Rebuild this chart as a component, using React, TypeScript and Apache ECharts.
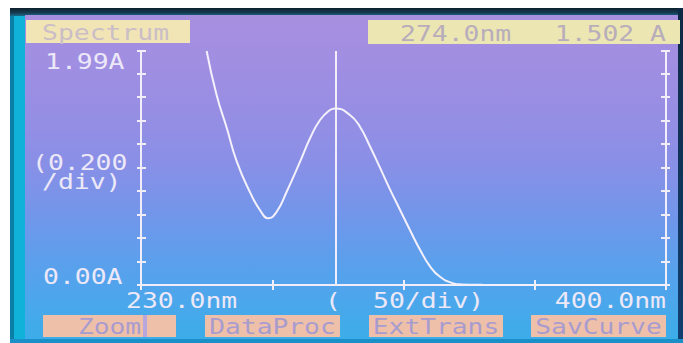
import React, { useEffect, useRef } from "react";
import * as echarts from "echarts";

// Spectrum data (wavelength in nm, absorbance in A)
const wavelengths = [225, 228.8, 232.7, 236.5, 241.5, 245.3, 248.5, 251.7, 255.5, 260.6, 264.4, 268.2, 272, 274, 279.6, 283.4, 287.2, 291, 294.8, 298.7, 302.5, 306.3, 310.1, 313.9, 319, 322, 330, 350, 375, 400];
const absorbance = [1.99, 1.616, 1.333, 1.049, 0.79, 0.638, 0.567, 0.623, 0.793, 1.049, 1.248, 1.403, 1.488, 1.502, 1.446, 1.346, 1.18, 1.0, 0.815, 0.638, 0.465, 0.3, 0.158, 0.07, 0.014, 0.005, 0.002, 0, 0, 0];

const cursorWavelength = 274;
const headerTitle = "Spectrum";
const readoutWavelength = "274.0nm";
const readoutAbs = "1.502 A";
const yEdgeLabels = ["1.99A", "0.00A"];
const yScaleLabels = ["(0.200", "/div)"];
const xEdgeLabels = ["230.0nm", "400.0nm"];
const xScaleLabels = ["(", "50/div)"];
const buttons = ["Zoom", "DataProc", "ExtTrans", "SavCurve"];

const X_MIN = 200;
const X_MAX = 400;
const X_STEP = 50;
const Y_MIN = 0;
const Y_MAX = 1.99;
const Y_STEP = 0.2;

const LINE = "#f1eefa";
const FONT = '"DejaVu Sans Mono", "Liberation Mono", monospace';

export default function App() {
  const ref = useRef<HTMLDivElement>(null);

  useEffect(() => {
    if (!ref.current) return;
    const chart = echarts.init(ref.current, undefined, { renderer: "svg" });

    const txt = (text: string, x: number, y: number, align: string, color: string, size = 22, sx = 1.2) => ({
      type: "text",
      x,
      y,
      scaleX: sx,
      silent: true,
      z: 10,
      style: {
        text,
        fill: color,
        font: `${size}px ${FONT}`,
        textAlign: align,
        textVerticalAlign: "middle",
      },
    });

    const rect = (x: number, y: number, w: number, h: number, fill: string) => ({
      type: "rect",
      shape: { x, y, width: w, height: h },
      style: { fill },
      silent: true,
      z: 5,
    });

    const buttonBoxes = [
      [43, 133],
      [205, 135],
      [369, 134],
      [531, 135],
    ];

    const axisCommon = {
      type: "value",
      splitLine: { show: false },
      axisLabel: { show: false },
    };

    const xAxes = [
      { ...axisCommon, min: X_MIN, max: X_MAX, interval: X_STEP, position: "bottom", axisLine: { show: true, lineStyle: { color: LINE, width: 2 } }, axisTick: { show: true, inside: true, length: 5, lineStyle: { color: LINE, width: 2 } } },
      { ...axisCommon, min: X_MIN, max: X_MAX, interval: X_STEP, position: "bottom", axisLine: { show: false }, axisTick: { show: true, inside: false, length: 3, lineStyle: { color: LINE, width: 2 } } },
      { ...axisCommon, min: X_MIN, max: X_MAX, interval: X_STEP, position: "top", axisLine: { show: true, lineStyle: { color: LINE, width: 2 } }, axisTick: { show: true, inside: true, length: 5, lineStyle: { color: LINE, width: 2 } } },
    ];
    const yAxes = [
      { ...axisCommon, min: Y_MIN, max: Y_MAX, interval: Y_STEP, position: "left", axisLine: { show: true, lineStyle: { color: LINE, width: 2 } }, axisTick: { show: true, inside: true, length: 5, lineStyle: { color: LINE, width: 2 } } },
      { ...axisCommon, min: Y_MIN, max: Y_MAX, interval: Y_STEP, position: "left", axisLine: { show: false }, axisTick: { show: true, inside: false, length: 4, lineStyle: { color: LINE, width: 2 } } },
      { ...axisCommon, min: Y_MIN, max: Y_MAX, interval: Y_STEP, position: "right", axisLine: { show: true, lineStyle: { color: LINE, width: 2 } }, axisTick: { show: true, inside: true, length: 5, lineStyle: { color: LINE, width: 2 } } },
      { ...axisCommon, min: Y_MIN, max: Y_MAX, interval: Y_STEP, position: "right", axisLine: { show: false }, axisTick: { show: true, inside: false, length: 4, lineStyle: { color: LINE, width: 2 } } },
    ];

    const labelColor = "#ece8f7";

    chart.setOption({
      animation: false,
      backgroundColor: "transparent",
      grid: { left: 141, right: 17, top: 51, bottom: 58, containLabel: false },
      xAxis: xAxes,
      yAxis: yAxes,
      series: [
        {
          type: "line",
          xAxisIndex: 0,
          yAxisIndex: 0,
          data: wavelengths.map((w, i) => [w, absorbance[i]]),
          showSymbol: false,
          smooth: 0.5,
          clip: true,
          lineStyle: { color: "#f4f1fb", width: 2 },
          silent: true,
          markLine: {
            silent: true,
            symbol: ["none", "none"],
            label: { show: false },
            lineStyle: { color: LINE, width: 2, type: "solid" },
            emphasis: { disabled: true },
            data: [{ xAxis: cursorWavelength }],
          },
        },
      ],
      graphic: [
        // header boxes
        rect(26, 20, 164, 23, "#f1e5b6"),
        rect(368, 20, 312, 24, "#ece6b2"),
        txt(headerTitle, 42, 32, "left", "#cbbec6"),
        txt(readoutWavelength, 400, 33, "left", "#b8adbb"),
        txt(readoutAbs, 666, 33, "right", "#b8adbb"),
        // y labels
        txt(yEdgeLabels[0], 45, 61, "left", labelColor),
        txt(yEdgeLabels[1], 43, 276, "left", labelColor),
        txt(yScaleLabels[0], 32, 162, "left", labelColor),
        txt(yScaleLabels[1], 42, 181, "left", labelColor),
        // x labels
        txt(xEdgeLabels[0], 126, 300, "left", labelColor),
        txt(xEdgeLabels[1], 666, 300, "right", labelColor),
        txt(xScaleLabels[0], 325, 300, "left", labelColor),
        txt(xScaleLabels[1], 373, 300, "left", labelColor),
        // buttons
        ...buttonBoxes.map(([x, w]) => rect(x, 315, w, 22, "#efc0a9")),
        {
          type: "rect",
          shape: { x: 143, y: 315, width: 4, height: 22 },
          style: { fill: "#b9a6dc" },
          silent: true,
          z: 6,
        },
        ...buttons.map((b, i) => txt(b, buttonBoxes[i][0] + buttonBoxes[i][1] / 2, 327, "center", "#a89ccf", 21, 1.25)),
      ],
    });

    return () => chart.dispose();
  }, []);

  return (
    <div style={{ position: "fixed", left: 0, top: 0, width: 683, height: 343, background: "#ffffff", overflow: "hidden" }}>
      <div style={{ position: "absolute", left: 10, top: 8, width: 673, height: 335, background: "#10b2da" }} />
      <div style={{ position: "absolute", left: 10, top: 8, width: 4, height: 335, background: "#0b7fa6" }} />
      <div style={{ position: "absolute", left: 10, top: 8, width: 673, height: 8, background: "linear-gradient(180deg, #0d1f2c 0%, #163c52 60%, #1a6a8c 100%)" }} />
      <div
        style={{
          position: "absolute",
          left: 25,
          top: 15,
          width: 653,
          height: 324,
          background: "linear-gradient(180deg, #a88fe0 0%, #9a8ee3 25%, #8a8fe6 45%, #7196ea 62%, #56a2ec 80%, #3cade9 100%)",
        }}
      />
      <div style={{ position: "absolute", left: 678, top: 8, width: 5, height: 335, background: "linear-gradient(180deg, #0d2a44 0%, #123e70 100%)" }} />
      <div style={{ position: "absolute", left: 10, top: 339, width: 673, height: 4, background: "#1a8fc8" }} />
      <div ref={ref} style={{ position: "absolute", left: 0, top: 0, width: 683, height: 343 }} />
    </div>
  );
}
